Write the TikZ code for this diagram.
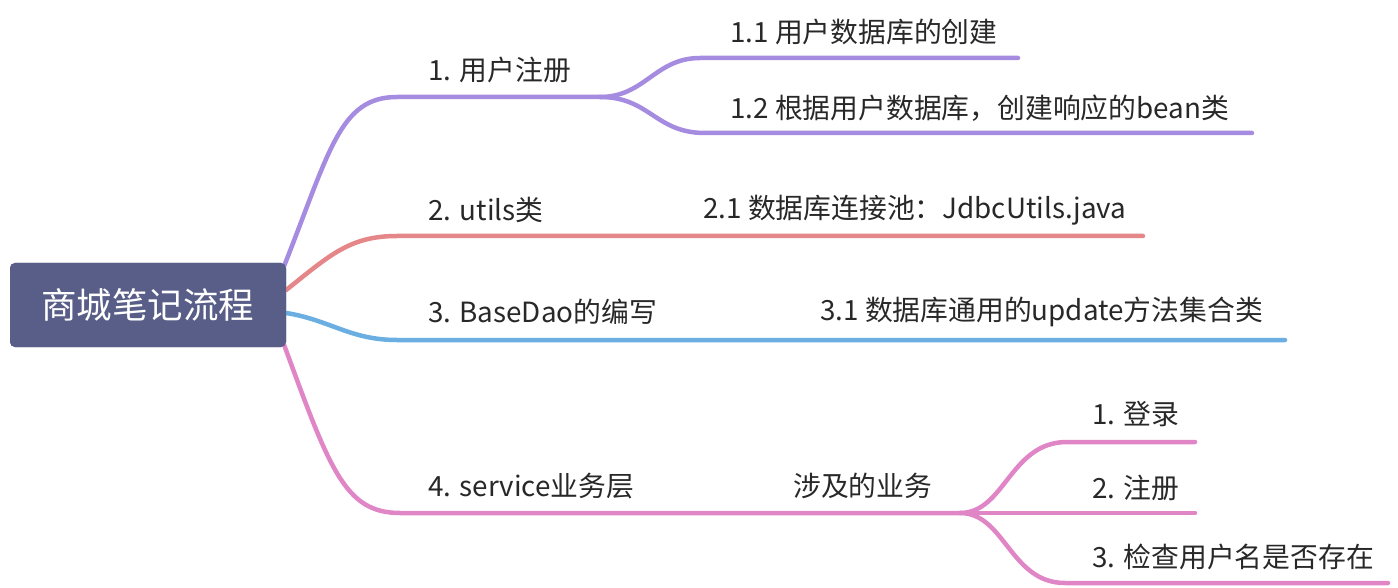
\documentclass[tikz,border=0pt]{standalone}
\usepackage{fontspec}
\setmainfont{Noto Sans CJK SC}
\usetikzlibrary{positioning}
\definecolor{rootfill}{RGB}{88,94,135}
\definecolor{purplebr}{RGB}{165,140,224}
\definecolor{redbr}{RGB}{229,134,137}
\definecolor{bluebr}{RGB}{106,174,226}
\definecolor{pinkbr}{RGB}{224,134,198}
\definecolor{labeltext}{RGB}{40,40,40}

\begin{document}
\begin{tikzpicture}[
	x=1pt, y=-1pt,
	every node/.style={font=\fontsize{27.8}{33}\selectfont, text=labeltext, inner sep=0pt, anchor=west},
	rootbox/.style={rectangle, rounded corners=5pt, fill=rootfill, text=white, font=\fontsize{35.5}{42}\selectfont, minimum width=276pt, minimum height=84pt, anchor=center},
	branch/.style={line width=4.5pt, line cap=round}
	]
	\useasboundingbox (0,0) rectangle (1398,588);
	
	% Root
	\node[rootbox] (root) at (148,305) {商城笔记流程};
	
	% Line ends
	\coordinate (b1) at (397,97);   \coordinate (b1e) at (600,97);
	\coordinate (c11) at (700,58);  \coordinate (c11e) at (1018,58);
	\coordinate (c12) at (705,133); \coordinate (c12e) at (1252,133);
	\coordinate (b2) at (397,236);  \coordinate (b2e) at (1143,236);
	\coordinate (b3) at (397,340);  \coordinate (b3e) at (1285,340);
	\coordinate (b4) at (400,513);  \coordinate (b4e) at (960,513);
	\coordinate (c41) at (1067,442); \coordinate (c41e) at (1195,442);
	\coordinate (c42e) at (1195,513);
	\coordinate (c43) at (1065,583); \coordinate (c43e) at (1388,583);
	
	% Branches
	\draw[branch, purplebr] ([xshift=-2pt, yshift=-3pt]root.north east) .. controls (330,150) and (340,97) .. (b1) -- (b1e);
	\draw[branch, purplebr] (b1e) .. controls (645,97) and (655,58) .. (c11) -- (c11e);
	\draw[branch, purplebr] (b1e) .. controls (650,97) and (655,133) .. (c12) -- (c12e);
	\draw[branch, redbr] ([yshift=15pt]root.east) .. controls (330,255) and (350,236) .. (b2) -- (b2e);
	\draw[branch, bluebr] ([yshift=-8pt]root.east) .. controls (330,320) and (350,340) .. (b3) -- (b3e);
	\draw[branch, pinkbr] ([xshift=-2pt, yshift=2pt]root.south east) .. controls (330,470) and (345,513) .. (b4) -- (b4e);
	\draw[branch, pinkbr] (b4e) .. controls (1005,513) and (1010,442) .. (c41) -- (c41e);
	\draw[branch, pinkbr] (b4e) -- (c42e);
	\draw[branch, pinkbr] (b4e) .. controls (1005,513) and (1010,583) .. (c43) -- (c43e);
	\node[rootbox] at (root) {商城笔记流程};
	
	% Labels
	\node (n1) at (428,70) {1. 用户注册};
	\node (n11) at (730,32) {1.1 用户数据库的创建};
	\node (n12) at (730,108) {1.2 根据用户数据库，创建响应的bean类};
	\node (n2) at (428,210) {2. utils类};
	\node (n21) at (703,210) {2.1 数据库连接池：JdbcUtils.java};
	\node (n3) at (428,312) {3. BaseDao的编写};
	\node (n31) at (820,312) {3.1 数据库通用的update方法集合类};
	\node (n4) at (428,486) {4. service业务层};
	\node (n41) at (793,486) {涉及的业务};
	\node (n411) at (1092,414) {1. 登录};
	\node (n412) at (1092,488) {2. 注册};
	\node (n413) at (1092,557) {3. 检查用户名是否存在};
\end{tikzpicture}
\end{document}
